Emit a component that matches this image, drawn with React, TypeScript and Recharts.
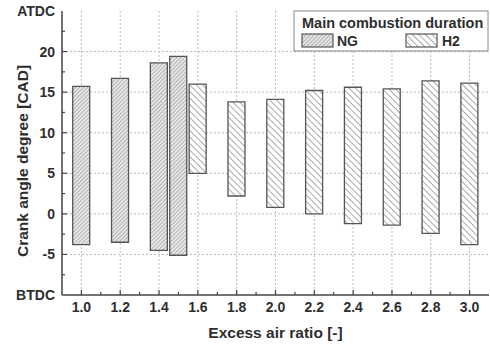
import React from "react";
import {
  ComposedChart,
  Bar,
  Cell,
  XAxis,
  YAxis,
  CartesianGrid,
  Label,
} from "recharts";

// main combustion duration (start / end, CAD) per excess air ratio
const ngRatio = [1.0, 1.2, 1.4, 1.5];
const ngStart = [-3.8, -3.5, -4.5, -5.1];
const ngEnd = [15.7, 16.7, 18.6, 19.4];

const h2Ratio = [1.6, 1.8, 2.0, 2.2, 2.4, 2.6, 2.8, 3.0];
const h2Start = [5.0, 2.2, 0.8, 0.0, -1.2, -1.4, -2.4, -3.8];
const h2End = [16.0, 13.8, 14.1, 15.2, 15.6, 15.4, 16.4, 16.1];

const xMajorTicks = [1.0, 1.2, 1.4, 1.6, 1.8, 2.0, 2.2, 2.4, 2.6, 2.8, 3.0];
const xMinorTicks = [1.1, 1.3, 1.5, 1.7, 1.9, 2.1, 2.3, 2.5, 2.7, 2.9];
const yMajorTicks = [-5, 0, 5, 10, 15, 20];
const yMinorTicks = [-7.5, -2.5, 2.5, 7.5, 12.5, 17.5, 22.5];
const yEndLabels: { [key: number]: string } = { 25: "ATDC", "-10": "BTDC" };

const data = [
  ...ngRatio.map((r, i) => ({ ratio: r, range: [ngStart[i], ngEnd[i]], fuel: "NG" })),
  ...h2Ratio.map((r, i) => ({ ratio: r, range: [h2Start[i], h2End[i]], fuel: "H2" })),
];

const FONT = '"Liberation Sans", Arial, sans-serif';
const TEXT = "#2e2e2e";
const AXIS = "#444";
const X_MARGIN = 12;
const Y_MARGIN = 7;

const xTicks = [...xMajorTicks, ...xMinorTicks].sort((a, b) => a - b);
const yTicks = [-10, ...yMajorTicks, ...yMinorTicks, 25].sort((a, b) => a - b);

const isMajorX = (v: number) => xMajorTicks.some((t) => Math.abs(t - v) < 1e-6);
const isMajorY = (v: number) => yMajorTicks.includes(v);

const txt = { fontFamily: FONT, fontWeight: 700, fill: TEXT } as const;

const BottomTick = (props: any) => {
  const { x, y, payload } = props;
  const major = isMajorX(payload.value);
  const ay = y - X_MARGIN;
  return (
    <g>
      <line x1={x} x2={x} y1={ay} y2={ay - (major ? 5 : 3)} stroke={AXIS} strokeWidth={1.2} />
      {major && (
        <text x={x} y={y} dy="0.36em" textAnchor="middle" fontSize={14} {...txt}>
          {payload.value.toFixed(1)}
        </text>
      )}
    </g>
  );
};

const TopTick = (props: any) => {
  const { x, y, payload } = props;
  const major = isMajorX(payload.value);
  return <line x1={x} x2={x} y1={y} y2={y + (major ? 5 : 3)} stroke={AXIS} strokeWidth={1.2} />;
};

const LeftTick = (props: any) => {
  const { x, y, payload } = props;
  const v = payload.value;
  const ax = x + Y_MARGIN;
  const end = yEndLabels[v];
  if (end) {
    return (
      <text x={x} y={y} dy="0.36em" textAnchor="end" fontSize={14} {...txt}>
        {end}
      </text>
    );
  }
  const major = isMajorY(v);
  return (
    <g>
      <line x1={ax} x2={ax + (major ? 5 : 3)} y1={y} y2={y} stroke={AXIS} strokeWidth={1.2} />
      {major && (
        <text x={x} y={y} dy="0.36em" textAnchor="end" fontSize={14} {...txt}>
          {v}
        </text>
      )}
    </g>
  );
};

const RightTick = (props: any) => {
  const { x, y, payload } = props;
  const v = payload.value;
  if (yEndLabels[v]) return <g />;
  const major = isMajorY(v);
  return <line x1={x} x2={x - (major ? 5 : 3)} y1={y} y2={y} stroke={AXIS} strokeWidth={1.2} />;
};

const YTitle = (props: any) => {
  const { x, y, height } = props.viewBox;
  const cx = x + 22;
  const cy = y + height / 2 + 8;
  return (
    <text
      x={cx}
      y={cy}
      transform={`rotate(-90 ${cx} ${cy})`}
      textAnchor="middle"
      dominantBaseline="central"
      fontSize={15.5}
      {...txt}
    >
      Crank angle degree [CAD]
    </text>
  );
};

const XTitle = (props: any) => {
  const { x, y, width } = props.viewBox;
  return (
    <text x={x + width / 2} y={y + 37} dominantBaseline="central" textAnchor="middle" fontSize={15.5} {...txt}>
      Excess air ratio [-]
    </text>
  );
};

const LegendBox = () => (
  <g>
    <rect x={294} y={11} width={194} height={40} fill="#fff" stroke="#888" strokeWidth={1} />
    <text x={302} y={23} dominantBaseline="central" fontSize={14.5} {...txt}>
      Main combustion duration
    </text>
    <rect x={302} y={34} width={31} height={13} fill="url(#ngHatch)" stroke="#555" strokeWidth={1.2} />
    <text x={337} y={41} dominantBaseline="central" fontSize={14} {...txt}>
      NG
    </text>
    <rect x={406} y={34} width={31} height={13} fill="url(#h2Hatch)" stroke="#555" strokeWidth={1.2} />
    <text x={442} y={41} dominantBaseline="central" fontSize={14} {...txt}>
      H2
    </text>
  </g>
);

export default function App() {
  return (
    <div style={{ position: "absolute", left: 0, top: 0, background: "#fff" }}>
      <ComposedChart
        width={490}
        height={345}
        data={data}
        margin={{ top: 11, right: 1, bottom: 0, left: 0 }}
      >
        <defs>
          <pattern id="ngHatch" width={2.8} height={2.8} patternUnits="userSpaceOnUse" patternTransform="rotate(45)">
            <rect width={2.8} height={2.8} fill="#e6e6e6" />
            <line x1={0} y1={0} x2={0} y2={2.8} stroke="#7a7a7a" strokeWidth={0.9} />
          </pattern>
          <pattern id="h2Hatch" width={4.6} height={4.6} patternUnits="userSpaceOnUse" patternTransform="rotate(-45)">
            <rect width={4.6} height={4.6} fill="#fff" />
            <line x1={0} y1={0} x2={0} y2={4.6} stroke="#555" strokeWidth={1} />
          </pattern>
        </defs>
        <CartesianGrid
          xAxisId="bottom"
          yAxisId="left"
          stroke="#bbb"
          strokeDasharray="2 2"
          horizontalValues={yMajorTicks}
          verticalValues={xMajorTicks}
        />
        <XAxis
          xAxisId="bottom"
          dataKey="ratio"
          type="number"
          domain={[0.9, 3.1]}
          ticks={xTicks}
          interval={0}
          allowDataOverflow
          height={50}
          tickSize={0}
          tickMargin={X_MARGIN}
          tick={<BottomTick />}
          axisLine={{ stroke: AXIS, strokeWidth: 1.5 }}
        >
          <Label content={<XTitle />} />
        </XAxis>
        <XAxis
          xAxisId="top"
          orientation="top"
          dataKey="ratio"
          type="number"
          domain={[0.9, 3.1]}
          ticks={xTicks}
          interval={0}
          allowDataOverflow
          height={0}
          tickSize={0}
          tickMargin={0}
          tick={<TopTick />}
          axisLine={{ stroke: AXIS, strokeWidth: 1.5 }}
        />
        <YAxis
          yAxisId="left"
          type="number"
          domain={[-10, 25]}
          ticks={yTicks}
          interval={0}
          allowDataOverflow
          width={62}
          tickSize={0}
          tickMargin={Y_MARGIN}
          tick={<LeftTick />}
          axisLine={{ stroke: AXIS, strokeWidth: 1.5 }}
        >
          <Label content={<YTitle />} />
        </YAxis>
        <YAxis
          yAxisId="right"
          orientation="right"
          type="number"
          domain={[-10, 25]}
          ticks={yTicks}
          interval={0}
          allowDataOverflow
          width={0}
          tickSize={0}
          tickMargin={0}
          tick={<RightTick />}
          axisLine={{ stroke: AXIS, strokeWidth: 1.5 }}
        />
        <Bar
          xAxisId="bottom"
          yAxisId="left"
          dataKey="range"
          barSize={17}
          stroke="#555"
          strokeWidth={1.3}
          isAnimationActive={false}
        >
          {data.map((d, i) => (
            <Cell key={i} fill={d.fuel === "NG" ? "url(#ngHatch)" : "url(#h2Hatch)"} />
          ))}
        </Bar>
        <LegendBox />
      </ComposedChart>
    </div>
  );
}
